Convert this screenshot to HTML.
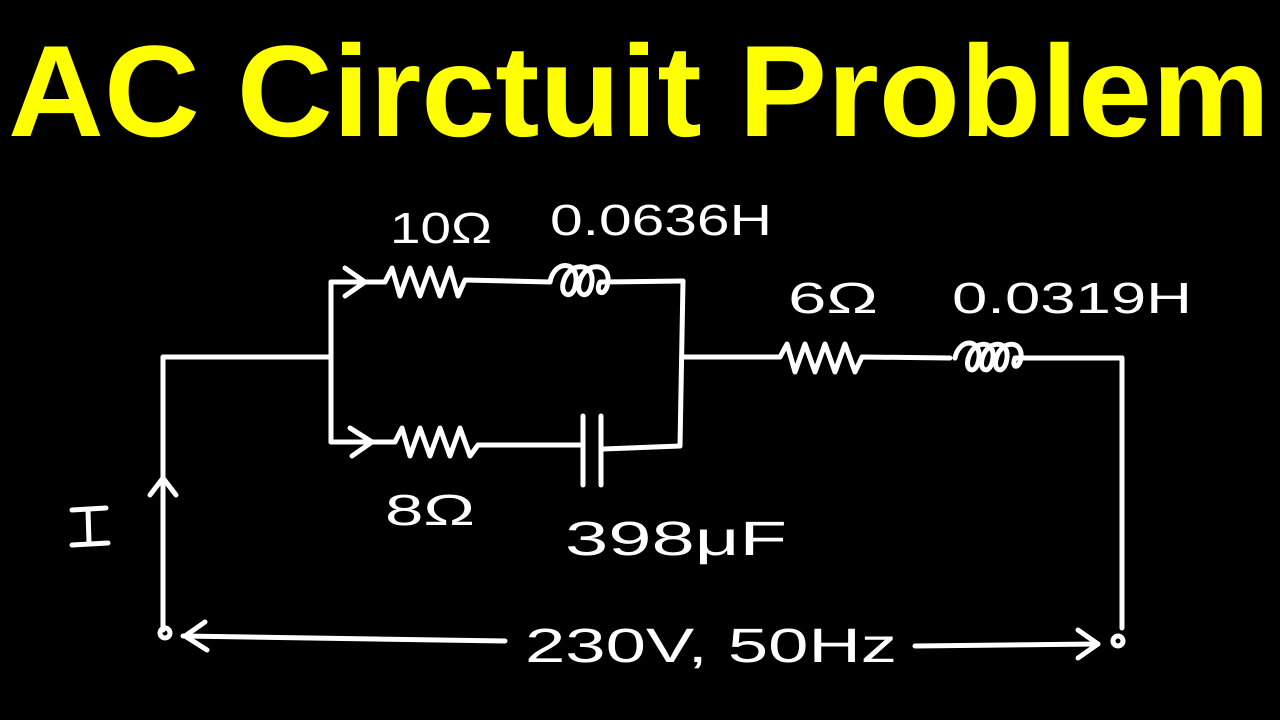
<!DOCTYPE html>
<html><head><meta charset="utf-8"><style>
html,body{margin:0;padding:0;background:#000;}
svg{display:block}
</style></head><body>
<svg width="1280" height="720" viewBox="0 0 1280 720" xmlns="http://www.w3.org/2000/svg">
<rect width="1280" height="720" fill="#000"/>
<text x="8" y="136" font-family="Liberation Sans, sans-serif" font-weight="bold" font-size="130" fill="#ffff00" textLength="1262" lengthAdjust="spacingAndGlyphs">AC Circtuit Problem</text>
<g stroke="#fff" stroke-width="5" fill="none" stroke-linecap="round" stroke-linejoin="round">
<polyline points="163,630 163,357 331,357"/>
<polyline points="150,495 163,478 176,495"/>
<polyline points="331,282 331,442"/>
<line x1="331" y1="282" x2="385" y2="282"/>
<polyline points="345,268 365,282 345,296"/>
<polyline points="385,282 392,268 400,296 410,268 420,296 430,268 440,296 450,268 458,296 465,280 550,282"/>
<path d="M550,282 c4,-22 28,-22 26,0 c-2,20 -18,14 -12,-2 c6,-18 30,-18 28,2 c-2,20 -18,14 -12,-2 c6,-18 30,-18 28,2 c-2,16 -14,12 -8,0 L683,281"/>
<polyline points="683,281 680,446"/>
<line x1="331" y1="442" x2="395" y2="442"/>
<polyline points="350,428 372,442 352,456"/>
<polyline points="395,442 402,428 410,456 420,428 430,456 440,428 450,456 460,428 470,456 478,445 580,445"/>
<line x1="583" y1="416" x2="583" y2="485"/>
<line x1="601" y1="416" x2="601" y2="485"/>
<line x1="603" y1="449" x2="680" y2="446"/>
<line x1="683" y1="357" x2="780" y2="357"/>
<polyline points="780,357 787,344 795,372 805,344 815,372 825,344 835,372 845,344 855,372 862,357 950,358"/>
<path d="M955,358 c4,-20 26,-20 24,0 c-2,18 -16,14 -10,-2 c6,-16 26,-16 24,2 c-2,18 -16,14 -10,-2 c6,-16 26,-16 24,2 c-2,18 -16,14 -10,-2 c6,-16 26,-16 24,2 c-2,12 -10,10 -6,0 L1122,358"/>
<line x1="1122" y1="358" x2="1122" y2="628"/>
<circle cx="165" cy="633" r="5"/>
<circle cx="1118" cy="641" r="5"/>
<line x1="183" y1="636" x2="505" y2="641"/>
<polyline points="205,622 185,636 207,650"/>
<line x1="915" y1="646" x2="1098" y2="644"/>
<polyline points="1078,630 1098,644 1078,658"/>
<!-- I -->
<line x1="72" y1="510" x2="106" y2="508"/>
<line x1="88" y1="510" x2="89" y2="543"/>
<line x1="72" y1="545" x2="108" y2="543"/>
</g>
<g fill="#fff" font-family="Liberation Sans, sans-serif">
<text x="390" y="243" font-size="44" textLength="102" lengthAdjust="spacingAndGlyphs">10Ω</text>
<text x="550" y="235" font-size="44" textLength="222" lengthAdjust="spacingAndGlyphs">0.0636H</text>
<text x="788" y="313" font-size="44" textLength="90" lengthAdjust="spacingAndGlyphs">6Ω</text>
<text x="952" y="313" font-size="44" textLength="240" lengthAdjust="spacingAndGlyphs">0.0319H</text>
<text x="385" y="525" font-size="44" textLength="90" lengthAdjust="spacingAndGlyphs">8Ω</text>
<text x="565" y="555" font-size="48" textLength="222" lengthAdjust="spacingAndGlyphs">398μF</text>
<text x="525" y="662" font-size="48" textLength="372" lengthAdjust="spacingAndGlyphs">230V, 50Hz</text>
</g>
</svg>
</body></html>
